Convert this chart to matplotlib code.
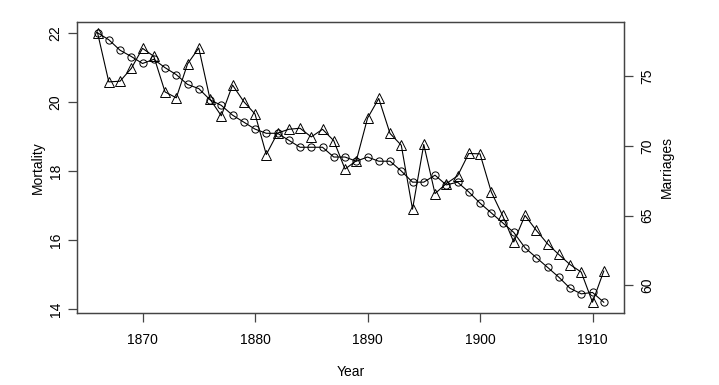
import matplotlib
matplotlib.use("Agg")
import matplotlib.pyplot as plt
import numpy as np

plt.rcParams['font.family'] = ['Liberation Sans', 'DejaVu Sans']

years = list(range(1866, 1912))
mortality = [22.0, 20.58, 20.6, 20.97, 21.55, 21.32, 20.29, 20.12, 21.1, 21.56,
             20.08, 19.6, 20.49, 20.01, 19.65, 18.48, 19.1, 19.21, 19.24, 18.99,
             19.21, 18.88, 18.06, 18.3, 19.53, 20.1, 19.09, 18.75, 16.9, 18.77,
             17.35, 17.64, 17.86, 18.51, 18.5, 17.4, 16.72, 15.95, 16.72, 16.29,
             15.9, 15.59, 15.3, 15.08, 14.21, 15.11]
marriages = [78.1, 77.6, 76.85, 76.4, 75.9, 76.2, 75.6, 75.1, 74.4, 74.1,
             73.3, 72.9, 72.2, 71.7, 71.2, 70.9, 70.9, 70.4, 69.9, 69.9,
             69.9, 69.2, 69.2, 68.9, 69.2, 68.9, 68.9, 68.2, 67.4, 67.4,
             67.9, 67.2, 67.4, 66.7, 65.9, 65.2, 64.5, 63.8, 62.7, 62.0,
             61.3, 60.6, 59.8, 59.4, 59.5, 58.8]
x_ticks = [1870, 1880, 1890, 1900, 1910]
left_ticks = [14, 16, 18, 20, 22]
right_ticks = [60, 65, 70, 75]

W, H = 719, 385
fig = plt.figure(figsize=(W / 100, H / 100), dpi=100)
ax = fig.add_axes([77.3 / W, 1 - 313 / H, (624 - 77.3) / W, (313 - 22) / H])

def rlim(v):
    lo, hi = min(v), max(v)
    r = hi - lo
    return lo - 0.04 * r, hi + 0.04 * r

ax.plot(years, mortality, color='black', lw=0.8, marker='^', ms=6.5,
        mfc='none', mec='black', mew=0.7)
ax.set_xlim(*rlim(years))
ax.set_ylim(*rlim(mortality))
ax.set_xticks(x_ticks)
ax.set_yticks(left_ticks)
ax.set_xlabel('Year', fontsize=10, labelpad=13)
ax.set_ylabel('Mortality', fontsize=10, labelpad=3)

ax2 = ax.twinx()
ax2.plot(years, marriages, color='black', lw=0.8, marker='o', ms=5.2,
         mfc='none', mec='black', mew=0.7)
ax2.set_ylim(*rlim(marriages))
ax2.set_yticks(right_ticks)
ax2.set_ylabel('Marriages', fontsize=10, labelpad=4)

for a in (ax, ax2):
    for s in a.spines.values():
        s.set_color('#444444')
        s.set_linewidth(0.9)
    a.tick_params(length=6.5, width=0.9, color='#444444', labelsize=10, pad=4)

ax.tick_params(axis='y', labelrotation=90)
ax2.tick_params(axis='y', labelrotation=90, pad=5)
for lab in ax.get_yticklabels():
    lab.set_va('center')
for lab in ax2.get_yticklabels():
    lab.set_va('center')
ax.tick_params(axis='x', pad=8)

fig.savefig('out.png', dpi=100)
